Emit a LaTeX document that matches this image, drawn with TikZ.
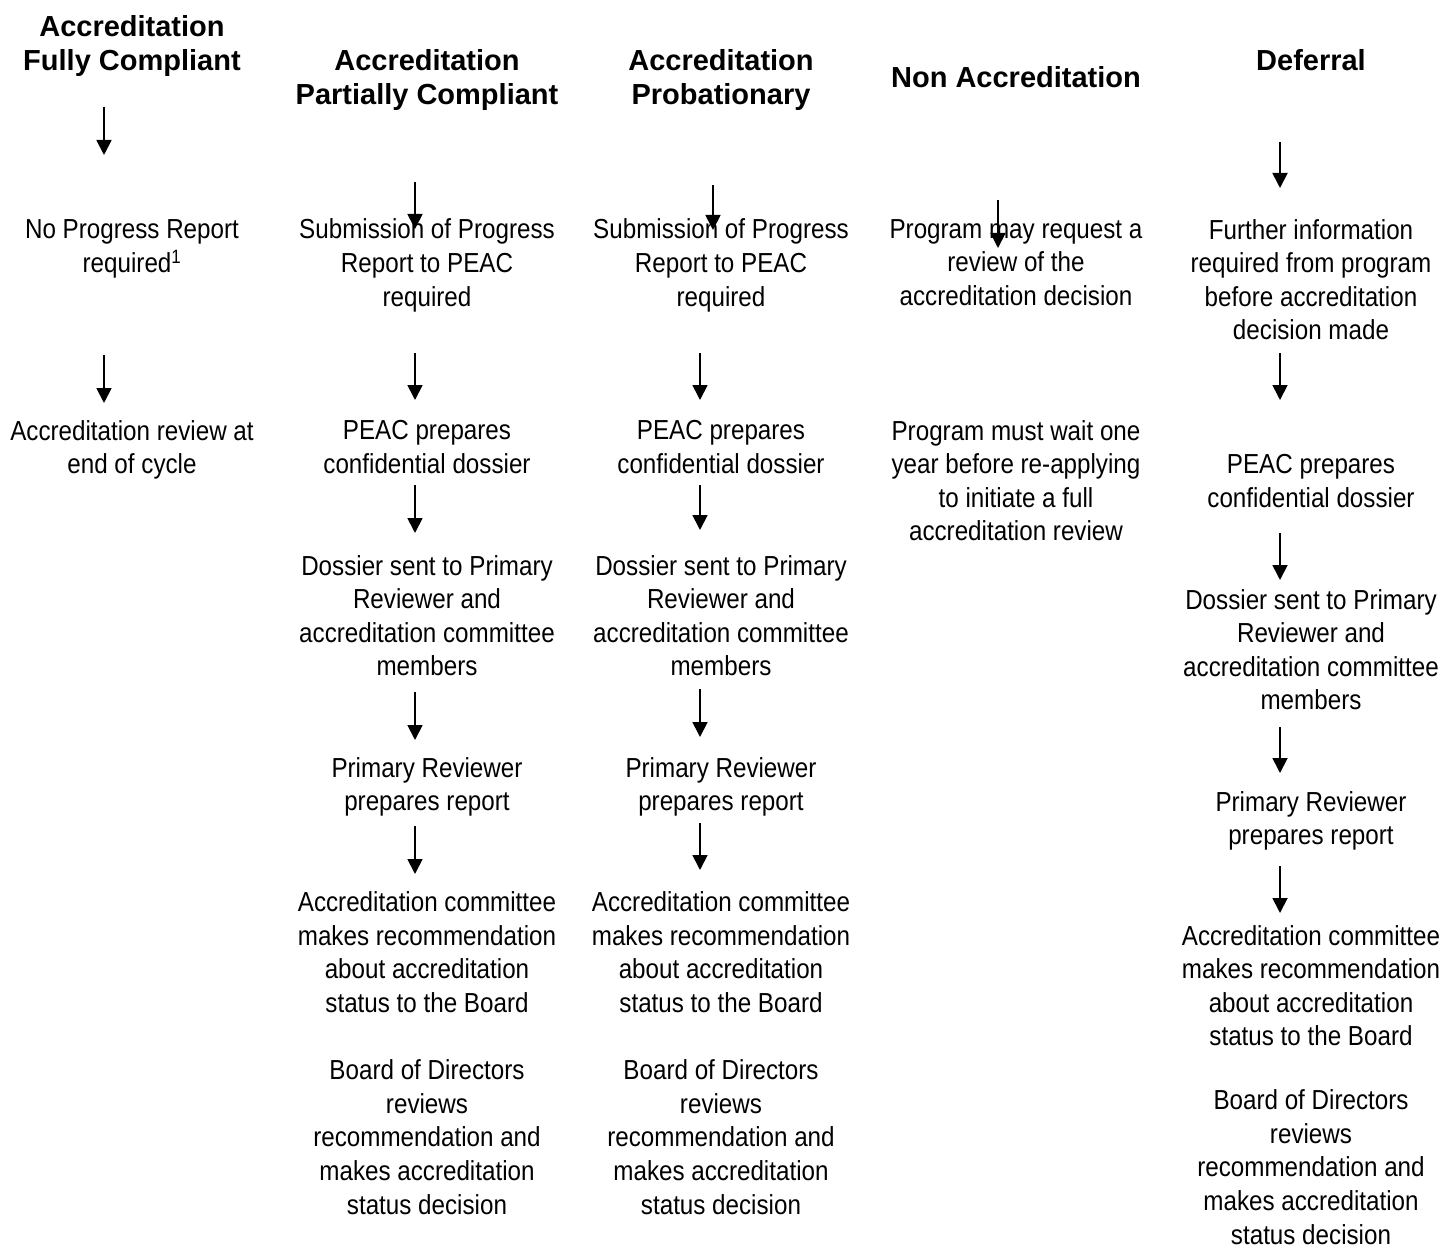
\documentclass[tikz,border=0pt]{standalone}
\usepackage{fontspec}
\setmainfont{Liberation Sans}[FakeStretch=0.88]
\newfontfamily\headfont{Liberation Sans}
\usetikzlibrary{arrows.meta}
\tikzset{
  body/.style={align=center,inner sep=0pt,yshift=-2pt,font=\fontsize{27.5}{33.6}\selectfont,
    execute at begin node=\strut, execute at end node=\strut},
  bodylast/.style={body,execute at end node={}},
  head/.style={align=center,inner sep=0pt,font=\headfont\bfseries\fontsize{29}{34}\selectfont},
  flow/.style={line width=1.8pt,-{Triangle[width=15pt,length=15pt]}}
}
\begin{document}
\begin{tikzpicture}[x=1pt,y=-1pt]
\useasboundingbox[fill=white] (0,0) rectangle (1443,1249);
% headings
\node[head] (h1) at (132,46) {Accreditation\\Fully Compliant};
\node[head] (h2) at (427,80) {Accreditation\\Partially Compliant};
\node[head] (h3) at (721,80) {Accreditation\\Probationary};
\node[head] (h4) at (1016,77) {Non Accreditation};
\node[head] (h5) at (1311,60) {Deferral};
% column 1
\node[body] (c1a) at (132,249) {No Progress Report\\required\textsuperscript{1}};
\node[body] (c1b) at (132,450) {Accreditation review at\\end of cycle};
% column 2
\node[body] (c2a) at (427,265.5) {Submission of Progress\\Report to PEAC\\required};
\node[body] (c2b) at (427,450) {PEAC prepares\\confidential dossier};
\node[body] (c2c) at (427,618.5) {Dossier sent to Primary\\Reviewer and\\accreditation committee\\members};
\node[body] (c2d) at (427,787) {Primary Reviewer\\prepares report};
\node[body] (c2e) at (427,955) {Accreditation committee\\makes recommendation\\about accreditation\\status to the Board};
\node[body] (c2f) at (427,1140) {Board of Directors\\reviews\\recommendation and\\makes accreditation\\status decision};
% column 3
\node[body] (c3a) at (721,265.5) {Submission of Progress\\Report to PEAC\\required};
\node[body] (c3b) at (721,450) {PEAC prepares\\confidential dossier};
\node[body] (c3c) at (721,618.5) {Dossier sent to Primary\\Reviewer and\\accreditation committee\\members};
\node[body] (c3d) at (721,787) {Primary Reviewer\\prepares report};
\node[body] (c3e) at (721,955) {Accreditation committee\\makes recommendation\\about accreditation\\status to the Board};
\node[body] (c3f) at (721,1140) {Board of Directors\\reviews\\recommendation and\\makes accreditation\\status decision};
% column 4
\node[body] (c4a) at (1016,265.5) {Program may request a\\review of the\\accreditation decision};
\node[body] (c4b) at (1016,483.5) {Program must wait one\\year before re-applying\\to initiate a full\\accreditation review};
% column 5
\node[body] (c5a) at (1311,282.5) {Further information\\required from program\\before accreditation\\decision made};
\node[body] (c5b) at (1311,484) {PEAC prepares\\confidential dossier};
\node[body] (c5c) at (1311,652.5) {Dossier sent to Primary\\Reviewer and\\accreditation committee\\members};
\node[body] (c5d) at (1311,821) {Primary Reviewer\\prepares report};
\node[body] (c5e) at (1311,988.5) {Accreditation committee\\makes recommendation\\about accreditation\\status to the Board};
\node[bodylast] (c5f) at (1311,1170) {Board of Directors\\reviews\\recommendation and\\makes accreditation\\status decision};
% arrow endpoints
\coordinate (a1s) at (104,107); \coordinate (a1e) at (104,155);
\coordinate (a2s) at (104,355); \coordinate (a2e) at (104,403);
\coordinate (b1s) at (415,182); \coordinate (b1e) at (415,229);
\coordinate (b2s) at (415,353); \coordinate (b2e) at (415,400);
\coordinate (b3s) at (415,485); \coordinate (b3e) at (415,533);
\coordinate (b4s) at (415,692); \coordinate (b4e) at (415,740);
\coordinate (b5s) at (415,826); \coordinate (b5e) at (415,874);
\coordinate (d1s) at (713,185); \coordinate (d1e) at (713,230);
\coordinate (d2s) at (700,353); \coordinate (d2e) at (700,400);
\coordinate (d3s) at (700,485); \coordinate (d3e) at (700,530);
\coordinate (d4s) at (700,689); \coordinate (d4e) at (700,737);
\coordinate (d5s) at (700,823); \coordinate (d5e) at (700,870);
\coordinate (e1s) at (998,200); \coordinate (e1e) at (998,248);
\coordinate (f1s) at (1280,142); \coordinate (f1e) at (1280,188);
\coordinate (f2s) at (1280,353); \coordinate (f2e) at (1280,400);
\coordinate (f3s) at (1280,533); \coordinate (f3e) at (1280,580);
\coordinate (f4s) at (1280,727); \coordinate (f4e) at (1280,773);
\coordinate (f5s) at (1280,866); \coordinate (f5e) at (1280,913);
\foreach \p in {a1,a2,b1,b2,b3,b4,b5,d1,d2,d3,d4,d5,e1,f1,f2,f3,f4,f5}
  \draw[flow] (\p s) -- (\p e);
\end{tikzpicture}
\end{document}
